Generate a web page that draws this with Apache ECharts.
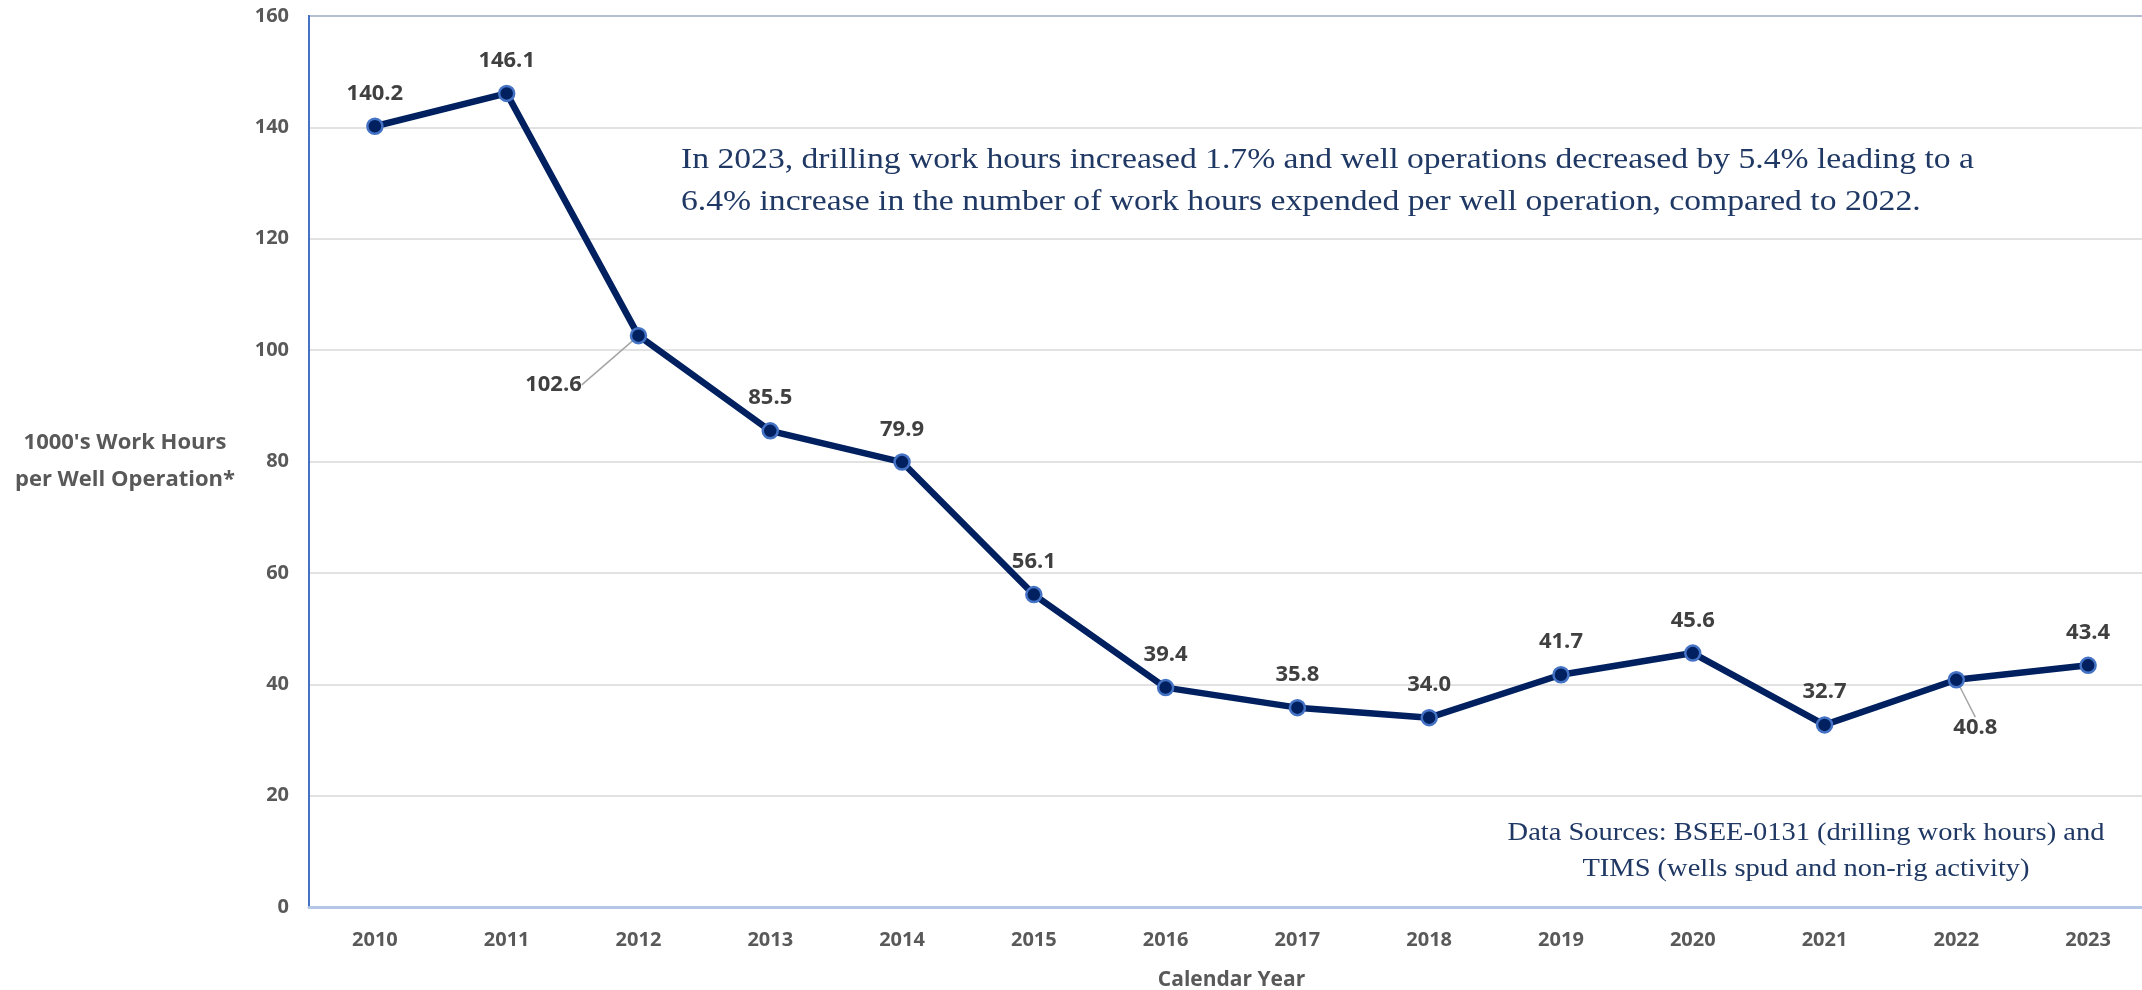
<!DOCTYPE html>
<html>
<head>
<meta charset="utf-8">
<title>Work Hours per Well Operation</title>
<script src="https://cdn.jsdelivr.net/npm/echarts@6/dist/echarts.min.js"></script>
<style>
  html, body { margin: 0; padding: 0; background: #ffffff; overflow: hidden; }
  #chart { width: 2142px; height: 990px; }
</style>
</head>
<body>
<div id="chart"></div>
<script>
// Calendar years on the category axis
const years = ['2010', '2011', '2012', '2013', '2014', '2015', '2016',
               '2017', '2018', '2019', '2020', '2021', '2022', '2023'];
// Thousands of work hours expended per well operation
const workHoursPerWell = [140.2, 146.1, 102.6, 85.5, 79.9, 56.1, 39.4,
                          35.8, 34.0, 41.7, 45.6, 32.7, 40.8, 43.4];
// Value axis range and step
const yTicks = { min: 0, max: 160, step: 20 };

const noteText = 'In 2023, drilling work hours increased 1.7% and well operations decreased by 5.4% leading to a\n' +
                 '6.4% increase in the number of work hours expended per well operation, compared to 2022.';
const sourceText = 'Data Sources: BSEE-0131 (drilling work hours) and\nTIMS (wells spud and non-rig activity)';

const sansBold = { fontFamily: '"Open Sans", "DejaVu Sans", sans-serif', fontWeight: 'bold' };

// Labels that sit away from their point, joined to it by a leader line
const shiftedLabels = {
  2: { dx: -85, dy: 48 },
  12: { dx: 19, dy: 47 }
};

const seriesData = workHoursPerWell.map((v, i) => {
  const item = { value: v };
  if (shiftedLabels[i]) {
    item.labelLine = { show: true };
  }
  return item;
});

const chart = echarts.init(document.getElementById('chart'), null, { renderer: 'canvas' });

chart.setOption({
  animation: false,
  backgroundColor: '#ffffff',
  // plot area runs a little past the right edge of the canvas
  grid: {
    left: 309, top: 16, width: 1845, bottom: 83,
    outerBoundsMode: 'none',
    show: true, borderColor: '#4472C4', borderWidth: 2, containLabel: false
  },
  xAxis: {
    type: 'category',
    data: years,
    boundaryGap: true,
    name: 'Calendar Year',
    nameLocation: 'middle',
    nameGap: 63,
    nameTextStyle: Object.assign({ fontSize: 21, color: '#595959' }, sansBold),
    axisLine: { lineStyle: { color: '#B4C7E7', width: 3 } },
    axisTick: { show: false },
    axisLabel: Object.assign({ fontSize: 20, color: '#595959', margin: 23 }, sansBold)
  },
  yAxis: {
    type: 'value',
    min: yTicks.min, max: yTicks.max, interval: yTicks.step,
    name: "1000's Work Hours\nper Well Operation*",
    nameLocation: 'middle',
    nameRotate: 0,
    nameGap: 184,
    nameTextStyle: Object.assign({
      fontSize: 22, color: '#595959', align: 'center', lineHeight: 37, padding: [10, 0, 0, 0]
    }, sansBold),
    axisLine: { show: true, lineStyle: { color: '#4472C4', width: 2 } },
    axisTick: { show: false },
    axisLabel: Object.assign({ fontSize: 20, color: '#595959', margin: 20 }, sansBold),
    splitLine: { lineStyle: { color: '#D9D9D9', width: 1.5 } }
  },
  series: [{
    type: 'line',
    data: seriesData,
    symbol: 'circle',
    symbolSize: 15,
    lineStyle: { color: '#002060', width: 6.5 },
    itemStyle: { color: '#002060', borderColor: '#4472C4', borderWidth: 2.5 },
    label: Object.assign({
      show: true, position: 'top', distance: 13,
      fontSize: 22, color: '#404040',
      formatter: p => p.value.toFixed(1)
    }, sansBold),
    labelLine: { show: false, lineStyle: { color: '#A6A6A6', width: 1.5 } },
    labelLayout: params => {
      const s = shiftedLabels[params.dataIndex];
      return s ? { dx: s.dx, dy: s.dy + 34 } : {};
    },
    z: 3
  }],
  graphic: [
    {
      type: 'text', x: 681, y: 139, scaleX: 1.16, z: 10,
      style: {
        text: noteText,
        font: '29px "Liberation Serif", "DejaVu Serif", serif',
        fill: '#1F3864', lineHeight: 42, textAlign: 'left', textVerticalAlign: 'top'
      }
    },
    {
      type: 'text', x: 1806, y: 815, scaleX: 1.14, z: 10,
      style: {
        text: sourceText,
        font: '25px "Liberation Serif", "DejaVu Serif", serif',
        fill: '#1F3864', lineHeight: 36, textAlign: 'center', textVerticalAlign: 'top'
      }
    }
  ]
});
</script>
</body>
</html>
